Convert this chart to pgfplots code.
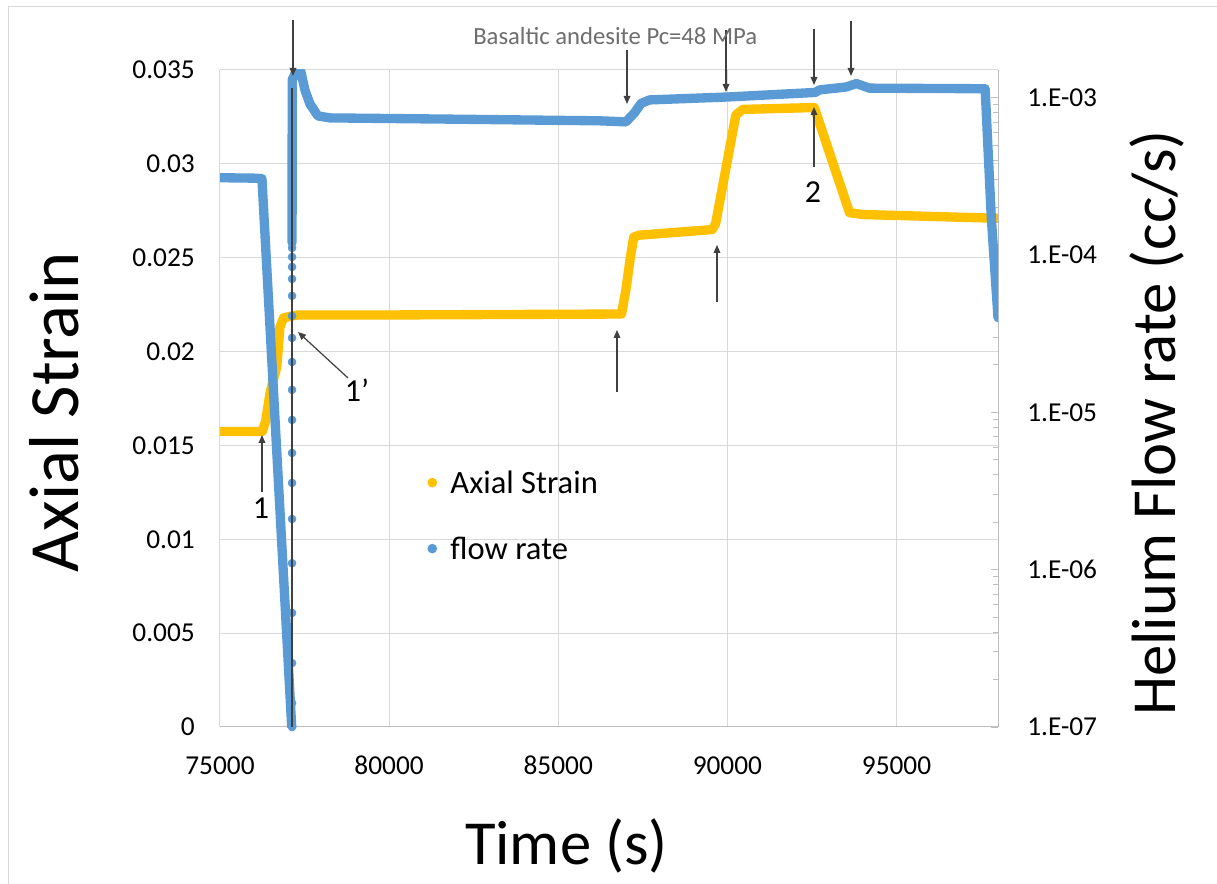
\documentclass[border=0pt]{standalone}
\usepackage{fontspec}
\setmainfont{Carlito}
\usepackage{pgfplots}
\pgfplotsset{compat=1.18}
\usetikzlibrary{arrows.meta}
\definecolor{strainorange}{HTML}{FFC000}
\definecolor{flowblue}{HTML}{5B9BD5}
\definecolor{gridgray}{HTML}{D9D9D9}
\definecolor{axisgray}{HTML}{BFBFBF}
\definecolor{annot}{HTML}{404040}
\definecolor{titlegray}{HTML}{6E6E6E}
\begin{document}
\begin{tikzpicture}
\useasboundingbox (0,0) rectangle (912.75pt,663pt);
\fill[white] (0,0) rectangle (912.75pt,663pt);
\begin{scope}[x=0.75pt,y=-0.75pt,yshift=663pt]
\draw[gridgray, line width=0.75pt] (8,884) -- (8,7) -- (1217,7);
\end{scope}

\begin{axis}[
  at={(165pt,117.75pt)}, anchor=south west,
  scale only axis, width=583.5pt, height=492.75pt,
  xmin=75000, xmax=98000, ymin=0, ymax=0.035,
  scaled ticks=false,
  xtick={75000,80000,85000,90000,95000},
  xticklabels={75000,80000,85000,90000,95000},
  ytick={0,0.005,0.01,0.015,0.02,0.025,0.03,0.035},
  yticklabels={0,0.005,0.01,0.015,0.02,0.025,0.03,0.035},
  grid=major, major grid style={draw=gridgray, line width=0.75pt},
  axis x line*=bottom, axis y line*=left,
  x axis line style={draw=axisgray, line width=0.75pt, -},
  y axis line style={draw=gridgray, line width=0.75pt, -},
  major tick length=0pt, tick style={draw=none},
  xticklabel style={anchor=north, inner sep=0pt, yshift=-21.75pt, font=\fontsize{20.5}{24}\selectfont},
  yticklabel style={anchor=east, inner sep=0pt, xshift=-18.75pt, font=\fontsize{20.5}{24}\selectfont},
  xlabel={Time (s)}, ylabel={Axial Strain},
  xlabel style={at={(axis description cs:0.4454,-0.210)}, anchor=base, inner sep=0pt, font=\fontsize{47}{56}\selectfont},
  ylabel style={at={(axis description cs:-0.1825,0.4795)}, anchor=base, inner sep=0pt, font=\fontsize{53}{60}\selectfont},
]
\addplot[strainorange, line width=7pt, line join=round, line cap=round] coordinates {
(75000,0.01574) (76250,0.01574) (76350,0.0163) (76480,0.0178) (76680,0.0192) (76770,0.0213) (76880,0.0218)
(77300,0.02195) (80000,0.02195) (86870,0.0220) (87000,0.0233) (87130,0.0250) (87230,0.0261) (87400,0.0262)
(89550,0.0265) (89650,0.0268) (90250,0.0326) (90450,0.0329) (92570,0.0330)
(93610,0.0274) (94000,0.0273) (98000,0.0271)};
\end{axis}

\begin{axis}[
  at={(165pt,117.75pt)}, anchor=south west,
  scale only axis, width=583.5pt, height=492.75pt,
  xmin=75000, xmax=98000,
  scaled ticks=false,
  ymode=log, ymin=1e-7, ymax=1.5e-3,
  axis y line*=right, axis x line=none,
  y axis line style={draw=axisgray, line width=0.75pt, -},
  ytick={1e-7,1e-6,1e-5,1e-4,1e-3},
  yticklabels={1.E-07,1.E-06,1.E-05,1.E-04,1.E-03},
  tick style={draw=axisgray, line width=0.75pt},
  major tick length=5pt, minor tick length=4pt, tick align=inside,
  yticklabel style={anchor=west, inner sep=0pt, xshift=21.75pt, font=\fontsize{20.5}{24}\selectfont},
  ylabel={Helium Flow rate (cc/s)},
  ylabel style={at={(axis description cs:1.2275,0.4627)}, anchor=base, inner sep=0pt, font=\fontsize{47}{56}\selectfont},
  legend image code/.code={\fill[#1] (0pt,0pt) circle (3.4pt);},
  legend cell align=left,
  legend style={at={(axis description cs:0.2667,0.3887)}, anchor=north west, draw=none, fill=none,
    inner sep=0pt, outer sep=0pt, row sep=33pt, column sep=10pt,
    nodes={inner sep=0pt, text height=16.5pt, text depth=0pt},
    font=\fontsize{24.4}{29}\selectfont},
]
\addlegendimage{color=strainorange}
\addlegendentry{Axial Strain}
\addlegendimage{color=flowblue}
\addlegendentry{flow rate}
\addplot[flowblue, line width=7pt, line join=round, line cap=round, forget plot] coordinates {
(75000,3.1e-4) (76000,3.08e-4) (76240,3.06e-4) (77120,1.0e-7)};
\addplot[only marks, mark=*, mark size=3pt, color=flowblue, forget plot] coordinates {
(77130,1.0e-7) (77130,1.42e-7) (77130,2.55e-7) (77130,5.31e-7) (77130,1.10e-6) (77130,2.10e-6)
(77130,3.56e-6) (77130,5.52e-6) (77130,8.95e-6) (77130,1.39e-5) (77130,2.09e-5) (77130,2.97e-5)
(77130,4.10e-5) (77130,5.50e-5) (77130,7.05e-5) (77130,8.40e-5) (77130,9.72e-5) (77130,1.11e-4)};
\addplot[flowblue, line width=7pt, line join=round, line cap=round, forget plot] coordinates {
(77130,1.2e-4) (77135,1.30e-3) (77245,1.46e-3) (77392,1.46e-3) (77510,1.12e-3) (77658,9.14e-4)
(77894,7.66e-4) (78249,7.44e-4) (82000,7.3e-4) (86223,7.13e-4) (87000,7.02e-4) (87250,8.0e-4)
(87450,9.2e-4) (87700,9.68e-4) (90000,1.01e-3) (92600,1.08e-3) (92720,1.12e-3) (93517,1.17e-3)
(93813,1.23e-3) (94197,1.15e-3) (97620,1.14e-3) (97800,1.75e-4) (98000,4.0e-5)};
\end{axis}

\begin{scope}[x=0.75pt,y=-0.75pt,yshift=663pt]
\tikzset{ann/.style={annot, line width=0.9pt, -{Triangle[length=6pt,width=5pt]}}}
\draw[ann] (293,20) -- (293,76);
\draw[annot, line width=0.9pt] (292,88) -- (292,727);
\draw[ann] (262,492) -- (262,435);
\draw[ann] (348,378) -- (298,332);
\draw[ann] (617,392) -- (617,330);
\draw[ann] (717,302) -- (717,245);
\draw[ann] (814,167) -- (814,107);
\draw[ann] (627,50) -- (627,104);
\draw[ann] (726,30) -- (726,92);
\draw[ann] (814,29) -- (814,85);
\draw[ann] (851,21) -- (851,76);
\node[anchor=base west, text=titlegray, font=\fontsize{18.5}{22}\selectfont, inner sep=0pt] at (473,45) {Basaltic andesite Pc=48 MPa};
\node[font=\fontsize{24}{28}\selectfont, inner sep=0pt] at (261,508) {1};
\node[font=\fontsize{24}{28}\selectfont, inner sep=0pt] at (357,390) {1’};
\node[font=\fontsize{24}{28}\selectfont, inner sep=0pt] at (813,192) {2};
\end{scope}
\end{tikzpicture}
\end{document}
